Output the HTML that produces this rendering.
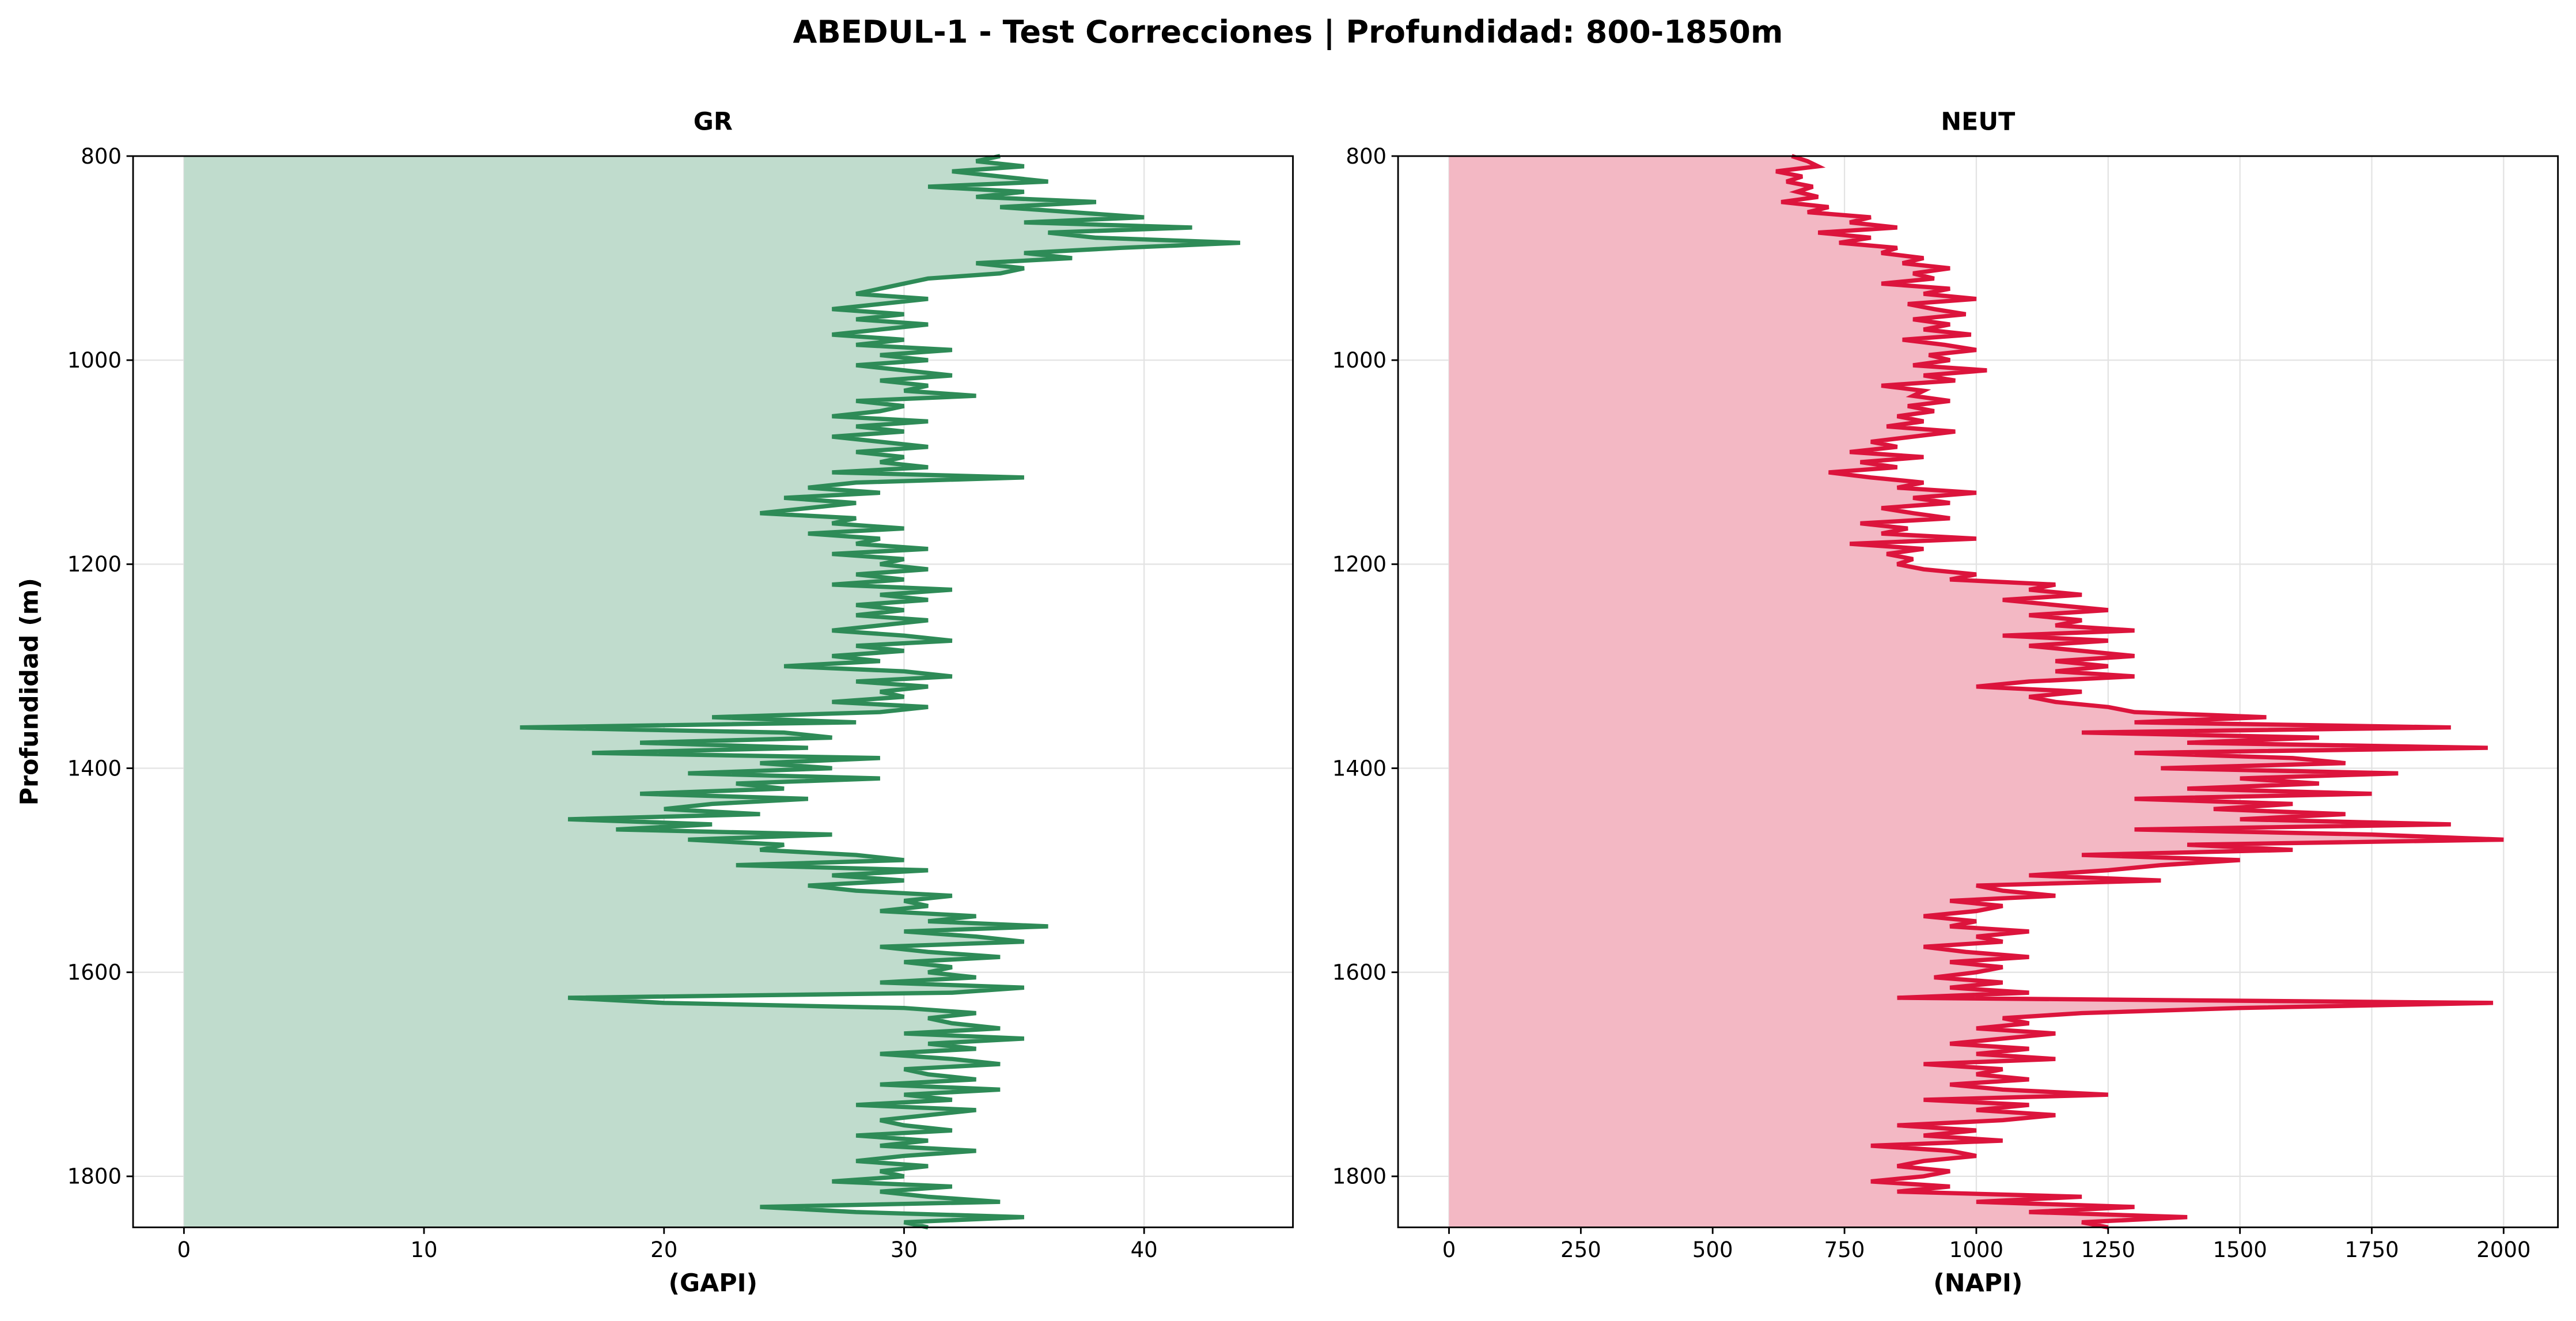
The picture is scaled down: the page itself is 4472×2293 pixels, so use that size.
<!DOCTYPE html>
<html><head><meta charset="utf-8"><style>
html,body{margin:0;padding:0;background:#fff}
svg{display:block}
text{font-family:"DejaVu Sans","Liberation Sans",sans-serif;fill:#000}
</style></head><body>
<svg id="chart" width="4472" height="2293" viewBox="0 0 1568 804" preserveAspectRatio="none" xmlns="http://www.w3.org/2000/svg">
<text x="784" y="26" text-anchor="middle" font-size="19" font-weight="bold">ABEDUL-1 - Test Correcciones | Profundidad: 800-1850m</text>
<g id="gr"></g>
<g id="neut"></g>
<text transform="translate(23,421) rotate(-90)" text-anchor="middle" font-size="15" font-weight="bold">Profundidad (m)</text>
</svg>
<script>
const depthStart = 800, depthStep = 5;
const grValues = [34,33,35,32,34,36,31,35,33,38,
34,37,40,35,42,36,38,44,39,35,
37,33,35,34,31,30,29,28,31,29,
27,30,28,31,29,27,30,28,32,29,
31,28,30,32,29,31,30,33,28,30,
29,27,31,28,30,27,29,31,28,30,
29,31,27,35,28,26,29,25,28,26,
24,28,27,30,26,29,28,31,27,30,
29,31,28,30,27,32,29,31,28,30,
28,31,29,27,30,32,28,30,27,29,
25,30,32,28,31,29,30,27,31,29,
22,28,14,25,27,19,26,17,29,24,
27,21,29,23,25,19,26,22,20,24,
16,22,18,27,21,25,24,28,30,23,
31,27,30,26,28,32,30,31,29,33,
31,36,30,33,35,29,31,34,30,32,
31,33,29,35,32,16,20,30,33,31,
32,34,30,35,31,33,29,32,34,30,
31,33,29,34,30,32,28,33,31,29,
30,32,28,31,29,33,30,28,31,29,
30,27,32,29,31,34,24,28,35,30,31];
const neutValues = [650,680,700,620,670,640,690,660,700,630,
720,680,800,760,850,700,800,740,850,820,
900,860,950,880,920,820,950,900,1000,870,
920,980,880,950,900,990,860,940,1000,910,
950,880,1020,900,960,820,900,880,950,870,
920,850,900,830,960,880,800,850,760,900,
780,850,720,800,900,850,1000,880,950,820,
880,950,780,870,820,1000,760,900,830,880,
850,900,1000,950,1150,1100,1200,1050,1150,1250,
1100,1200,1150,1300,1050,1250,1100,1200,1300,1150,
1250,1150,1300,1100,1000,1200,1100,1150,1250,1300,
1550,1300,1900,1200,1650,1400,1970,1300,1600,1700,
1350,1800,1500,1650,1400,1750,1300,1600,1450,1700,
1500,1900,1300,1750,2000,1400,1600,1200,1500,1350,
1250,1100,1350,1000,1050,1150,950,1050,1000,900,
1000,950,1100,1000,1050,900,980,1100,950,1050,
1000,920,1050,950,1100,850,1980,1500,1200,1050,
1100,1000,1150,1050,950,1100,1000,1150,900,1050,
1000,1100,950,1050,1250,900,1100,1000,1150,1050,
850,1000,900,1050,800,950,1000,900,850,950,
900,800,950,850,1200,1000,1300,1100,1400,1200,1250];
const depthTicks = [800,1000,1200,1400,1600,1800];
const grTicks = [0,10,20,30,40];
const neutTicks = [0,250,500,750,1000,1250,1500,1750,2000];

const NS="http://www.w3.org/2000/svg";
function mk(tag,attrs,parent){const e=document.createElementNS(NS,tag);for(const k in attrs)e.setAttribute(k,attrs[k]);parent.appendChild(e);return e;}
const topY=95,botY=747;
function yScale(d){return topY+(d-800)/(1850-800)*(botY-topY);}

function panel(g,left,right,xmin,xmax,vals,ticks,color,fill,title,unit,nm){
  const xs=v=>left+(v-xmin)/(xmax-xmin)*(right-left);
  ticks.forEach(t=>{const l=mk('line',{x1:xs(t),x2:xs(t),y1:topY,y2:botY,stroke:'#e3e3e3','stroke-width':0.8},g);
    
    });
  depthTicks.forEach(t=>{const l=mk('line',{x1:left,x2:right,y1:yScale(t),y2:yScale(t),stroke:'#e3e3e3','stroke-width':0.8},g);
    
    });
  let pts=vals.map((v,i)=>xs(v).toFixed(2)+','+yScale(depthStart+i*depthStep).toFixed(2));
  const x0=xs(0);
  const poly=mk('polygon',{points:x0+','+yScale(800)+' '+pts.join(' ')+' '+x0+','+yScale(1850),fill:fill,stroke:'none'},g);
  
  
  const pl=mk('polyline',{points:pts.join(' '),fill:'none',stroke:color,'stroke-width':2.6,'stroke-linejoin':'miter'},g);
  
  
  const fr=mk('rect',{x:left,y:topY,width:right-left,height:botY-topY,fill:'none',stroke:'#000','stroke-width':1},g);
  
  
  ticks.forEach(t=>{mk('line',{x1:xs(t),x2:xs(t),y1:botY,y2:botY+4,stroke:'#000','stroke-width':1},g);
    const tx=mk('text',{x:xs(t),y:botY+18,'text-anchor':'middle','font-size':13},g);tx.textContent=t;
    
    });
  depthTicks.forEach(t=>{mk('line',{x1:left-4,x2:left,y1:yScale(t),y2:yScale(t),stroke:'#000','stroke-width':1},g);
    const tx=mk('text',{x:left-7,y:yScale(t)+4.5,'text-anchor':'end','font-size':13},g);tx.textContent=t;
    
    });
  const ti=mk('text',{x:(left+right)/2,y:79,'text-anchor':'middle','font-size':15,'font-weight':'bold'},g);ti.textContent=title;
  
  
  const xl=mk('text',{x:(left+right)/2,y:786,'text-anchor':'middle','font-size':15,'font-weight':'bold'},g);xl.textContent=unit;
  
  
}
const gGR=document.getElementById('gr');


const gNE=document.getElementById('neut');


panel(gGR,81,787,-2.12,46.2,grValues,grTicks,'#2e8b57','#c0dccd','GR','(GAPI)','gr');
panel(gNE,851,1557,-96.6,2103,neutValues,neutTicks,'#dc143c','#f3b8c4','NEUT','(NAPI)','neut');
</script>
</body></html>
